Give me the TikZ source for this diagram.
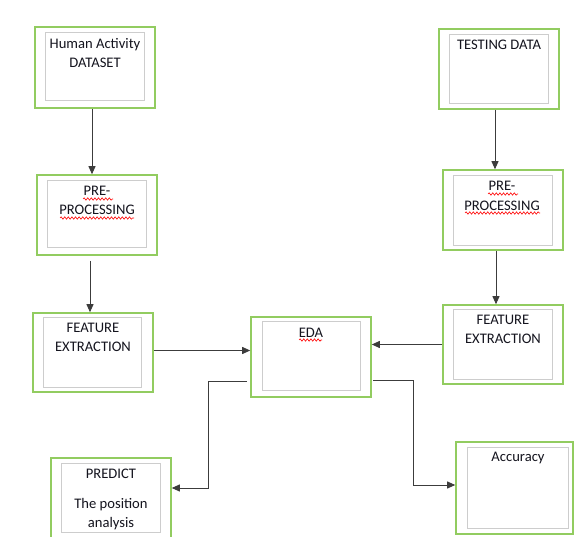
\documentclass[tikz,border=0pt]{standalone}
\usepackage{fontspec}
\setmainfont{Carlito}
\usetikzlibrary{arrows.meta,decorations.pathmorphing}
\definecolor{boxgreen}{RGB}{146,204,96}
\definecolor{innergray}{RGB}{205,205,205}
\definecolor{linegray}{RGB}{60,60,60}
\definecolor{txt}{RGB}{20,20,30}
\begin{document}
\begin{tikzpicture}[x=1pt,y=-1pt,
  outerbox/.style={draw=boxgreen,line width=1.6pt,fill=white,inner sep=0pt},
  innerbox/.style={draw=innergray,line width=1pt,inner sep=0pt},
  lbl/.style={text=txt,font=\fontsize{14.6}{19.5}\selectfont,align=center,inner sep=0pt},
  arr/.style={draw=linegray,line width=0.9pt,-{Triangle[length=8pt,width=7pt]}},
  squig/.style={draw=red,line width=0.6pt,decorate,decoration={snake,segment length=3.6pt,amplitude=1.2pt}}]
\useasboundingbox (0,0) rectangle (574,537);
% boxes
\node[outerbox,minimum width=120pt,minimum height=81pt] (hum) at (95,67.5) {};
\node[innerbox,minimum width=99pt,minimum height=68pt] (humi) at (94.5,67) {};
\node[lbl] (humt) at (95,53) {Human Activity\\DATASET};

\node[outerbox,minimum width=120pt,minimum height=80pt] (pre1) at (97,215) {};
\node[innerbox,minimum width=99pt,minimum height=67pt] (pre1i) at (96.5,214.5) {};
\node[lbl] (pre1t) at (97,200.5) {PRE-\\PROCESSING};

\node[outerbox,minimum width=120pt,minimum height=79pt] (fe1) at (93,352.5) {};
\node[innerbox,minimum width=98pt,minimum height=70pt] (fe1i) at (92,353) {};
\node[lbl] (fe1t) at (93,337.5) {FEATURE\\EXTRACTION};

\node[outerbox,minimum width=120pt,minimum height=80pt] (eda) at (311,357) {};
\node[innerbox,minimum width=98pt,minimum height=69pt] (edai) at (311,356.5) {};
\node[lbl] (edat) at (311,333) {EDA};

\node[outerbox,minimum width=120pt,minimum height=80pt] (test) at (499,69) {};
\node[innerbox,minimum width=99pt,minimum height=69pt] (testi) at (498.5,69.5) {};
\node[lbl] (testt) at (499,45) {TESTING DATA};

\node[outerbox,minimum width=120pt,minimum height=80pt] (pre2) at (503,210) {};
\node[innerbox,minimum width=99pt,minimum height=70pt] (pre2i) at (502.5,211) {};
\node[lbl] (pre2t) at (502,196) {PRE-\\PROCESSING};

\node[outerbox,minimum width=120pt,minimum height=79pt] (fe2) at (503,344.5) {};
\node[innerbox,minimum width=99pt,minimum height=70pt] (fe2i) at (502.5,345) {};
\node[lbl] (fe2t) at (503,329.5) {FEATURE\\EXTRACTION};

\node[outerbox,minimum width=120pt,minimum height=84pt] (pred) at (111,500) {};
\node[innerbox,minimum width=99pt,minimum height=69pt] (predi) at (110.5,498.5) {};
\node[lbl] (predt1) at (111,474) {PREDICT};
\node[lbl] (predt2) at (111,514) {The position\\analysis};

\node[outerbox,minimum width=117pt,minimum height=92pt] (acc) at (514.5,488) {};
\node[innerbox,minimum width=101pt,minimum height=81pt] (acci) at (517.5,488.5) {};
\node[lbl] (acct) at (518,458) {Accuracy};

% spelling squiggles
\draw[squig] (83,199) -- (113,199);
\draw[squig] (60,218) -- (134,218);
\draw[squig] (488,194) -- (518,194);
\draw[squig] (465,213) -- (540,213);
\draw[squig] (299,340) -- (322,340);

% connectors
\draw[arr] ([xshift=-3pt]hum.south) -- ([xshift=-3pt]hum.south |- pre1.north);
\draw[arr] ([xshift=-7pt,yshift=-5pt]pre1.south) -- ([xshift=-7pt]pre1.south |- fe1.north);
\draw[arr] ([xshift=-4pt]test.south) -- ([xshift=-4pt]test.south |- pre2.north);
\draw[arr] ([xshift=-7pt]pre2.south) -- ([xshift=-7pt]pre2.south |- fe2.north);
\draw[arr] ([yshift=2pt]fe1.east) -- ([yshift=2pt]eda.west |- fe1.east);
\draw[arr] (fe2.west) -- (eda.east |- fe2.west);
\coordinate (edaL) at (247,381);
\coordinate (edaR) at (373,380);
\draw[arr] (edaL) -- (208,381) |- ([yshift=12pt]pred.east);
\draw[arr] (edaR) -- (413,380) |- ([yshift=3pt]acc.west);
\end{tikzpicture}
\end{document}
